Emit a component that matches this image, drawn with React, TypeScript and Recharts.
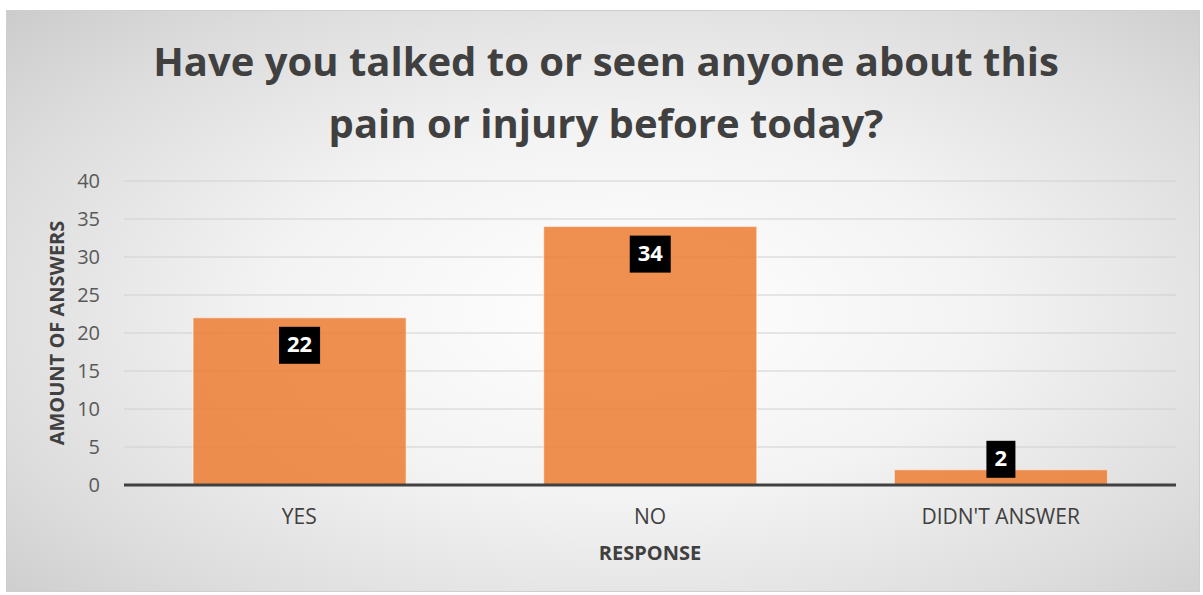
import React from 'react';
import { BarChart, Bar, XAxis, YAxis, CartesianGrid, LabelList, ReferenceLine } from 'recharts';

const categories = ['YES', 'NO', "DIDN'T ANSWER"];
const answers = [22, 34, 2];
const yTicks = [0, 5, 10, 15, 20, 25, 30, 35, 40];

const data = categories.map((name, i) => ({ name, value: answers[i] }));

const FONT = '"Open Sans", "Noto Sans", sans-serif';

const ValueBox = (props: any) => {
    const { x, y, width, height, value } = props;
    const text = String(value);
    const w = text.length > 1 ? 41 : 29;
    const h = 37;
    const cx = x + width / 2;
    // put the box inside the bar when it fits, else above it
    const top = height > h + 20 ? y + 9 : y + 8 - h;
    return (
        <g>
            <rect x={cx - w / 2} y={top} width={w} height={h} fill="#000" />
            <text x={cx} y={top + h / 2 + 1} fill="#fff" fontSize={22} fontWeight={700}
                fontFamily={FONT} textAnchor="middle" dominantBaseline="middle">{text}</text>
        </g>
    );
};

const App: React.FC = () => {
    return (
        <div style={{ position: 'fixed', left: 0, top: 0, width: 1203, height: 595, background: '#fff', fontFamily: FONT }}>
            <div style={{
                position: 'absolute', left: 6, top: 10, width: 1192, height: 580,
                border: '1px solid #cfcfcf',
                background: 'radial-gradient(ellipse 75% 80% at 52% 52%, #ffffff 0%, #f3f3f3 40%, #dcdcdc 75%, #c8c8c8 100%)',
            }} />
            <div style={{
                position: 'absolute', left: 0, top: 30, width: 1212, textAlign: 'center',
                fontSize: 40, fontWeight: 700, color: '#404040', lineHeight: '62px',
            }}>
                Have you talked to or seen anyone about this<br />pain or injury before today?
            </div>
            <div style={{
                position: 'absolute', left: 56, top: 333, transform: 'translate(-50%, -50%) rotate(-90deg)',
                whiteSpace: 'nowrap', fontSize: 20, fontWeight: 700, color: '#404040',
            }}>
                AMOUNT OF ANSWERS
            </div>
            <div style={{
                position: 'absolute', left: 650, top: 552, transform: 'translate(-50%, -50%)',
                whiteSpace: 'nowrap', fontSize: 20, fontWeight: 700, color: '#404040',
            }}>
                RESPONSE
            </div>
            <div style={{ position: 'absolute', left: 0, top: 0 }}>
                <BarChart width={1203} height={595} data={data}
                    margin={{ top: 181, right: 27, bottom: 0, left: 0 }} barCategoryGap="19.7%">
                    <CartesianGrid vertical={false} stroke="#d0d0d0" strokeWidth={1} />
                    <XAxis dataKey="name" axisLine={false} tickLine={false} height={110} tickMargin={18}
                        tick={{ fill: '#404040', fontSize: 21, fontFamily: FONT }} />
                    <YAxis domain={[0, 40]} ticks={yTicks} width={124} axisLine={false} tickLine={false}
                        tickMargin={18} interval={0}
                        tick={{ fill: '#595959', fontSize: 20, fontFamily: FONT }} />
                    <Bar dataKey="value" fill="#ED7D31" fillOpacity={0.85} stroke="#ffffff" strokeOpacity={0.5}
                        strokeWidth={1} isAnimationActive={false}>
                        <LabelList dataKey="value" content={<ValueBox />} />
                    </Bar>
                    <ReferenceLine y={0} stroke="#404040" strokeWidth={3} />
                </BarChart>
            </div>
        </div>
    );
};

export default App;
